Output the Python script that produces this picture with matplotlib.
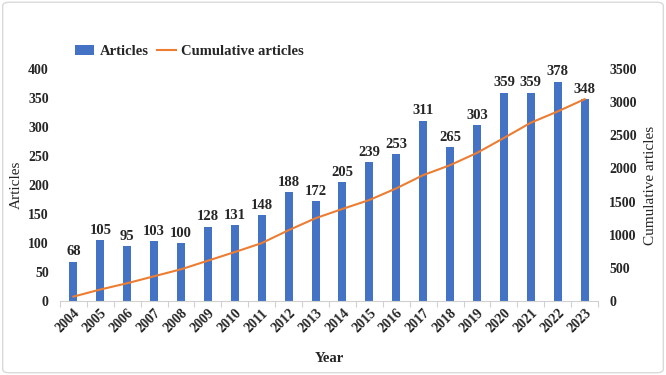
import matplotlib
matplotlib.use("Agg")
import matplotlib.pyplot as plt
from matplotlib.patches import Patch, FancyBboxPatch
from matplotlib.lines import Line2D
import numpy as np

years = ["2004", "2005", "2006", "2007", "2008", "2009", "2010", "2011", "2012", "2013",
         "2014", "2015", "2016", "2017", "2018", "2019", "2020", "2021", "2022", "2023"]
articles = [68, 105, 95, 103, 100, 128, 131, 148, 188, 172,
            205, 239, 253, 311, 265, 303, 359, 359, 378, 348]
cumulative = [68, 175, 270, 375, 480, 610, 740, 875, 1070, 1250,
              1390, 1525, 1700, 1900, 2050, 2235, 2460, 2690, 2860, 3045]

plt.rcParams['font.family'] = ['Liberation Serif', 'DejaVu Serif']
txt = '#262626'
bar_c = '#4472C4'
line_c = '#ED7D31'

fig = plt.figure(figsize=(6.66, 3.75), dpi=100)
ax = fig.add_axes([0.090, 0.197, 0.808, 0.619])
ax2 = ax.twinx()

x = np.arange(len(years))
ax.bar(x, articles, width=0.3, color=bar_c, zorder=2)
for xi, v in zip(x, articles):
    ax.text(xi, v + 6, str(v), ha='center', va='bottom', fontsize=10.5,
            fontweight='bold', color=txt)
ax2.plot(x, cumulative, color=line_c, lw=1.5, zorder=3)

ax.set_xlim(-0.5, len(years) - 0.5)
ax.set_ylim(0, 400)
ax2.set_ylim(0, 3500)
ax.set_yticks(range(0, 401, 50))
ax2.set_yticks(range(0, 3501, 500))

ax.set_xticks(x)
ax.set_xticklabels(years, rotation=45, ha='right', rotation_mode='anchor',
                   fontsize=10, fontweight='bold', color=txt)
ax.tick_params(axis='x', which='major', length=0, pad=4)
ax.set_xticks(np.arange(-0.5, len(years), 1.0), minor=True)
ax.tick_params(axis='x', which='minor', length=4, color='#d0d0d0', width=0.8)

for a in (ax, ax2):
    for s in ['top', 'left', 'right']:
        a.spines[s].set_visible(False)
    a.spines['bottom'].set_color('#d0d0d0')
    a.tick_params(axis='y', length=0, labelsize=10, labelcolor=txt, pad=8)
    for lab in a.get_yticklabels():
        lab.set_fontweight('bold')
ax2.spines['bottom'].set_visible(False)

ax.set_ylabel('Articles', fontsize=11, color=txt, labelpad=4)
ax2.set_ylabel('Cumulative articles', fontsize=11, color=txt, labelpad=5)
ax.set_xlabel('Year', fontsize=10.5, fontweight='bold', color=txt, labelpad=12)

handles = [Patch(facecolor=bar_c, edgecolor='none'),
           Line2D([0], [0], color=line_c, lw=1.5)]
fig.legend(handles, ['Articles', 'Cumulative articles'], loc='center',
           bbox_to_anchor=(0.285, 0.862), ncol=2, frameon=False,
           prop={'weight': 'bold', 'size': 10.5}, labelcolor=txt,
           handlelength=1.3, handletextpad=0.4, columnspacing=0.5)

border = FancyBboxPatch((0.004, 0.006), 0.992, 0.988, boxstyle='round,pad=0,rounding_size=0.01',
                        transform=fig.transFigure, fill=False, edgecolor='#d9d9d9', lw=1)
fig.patches.append(border)

fig.savefig('out.png', dpi=100)
